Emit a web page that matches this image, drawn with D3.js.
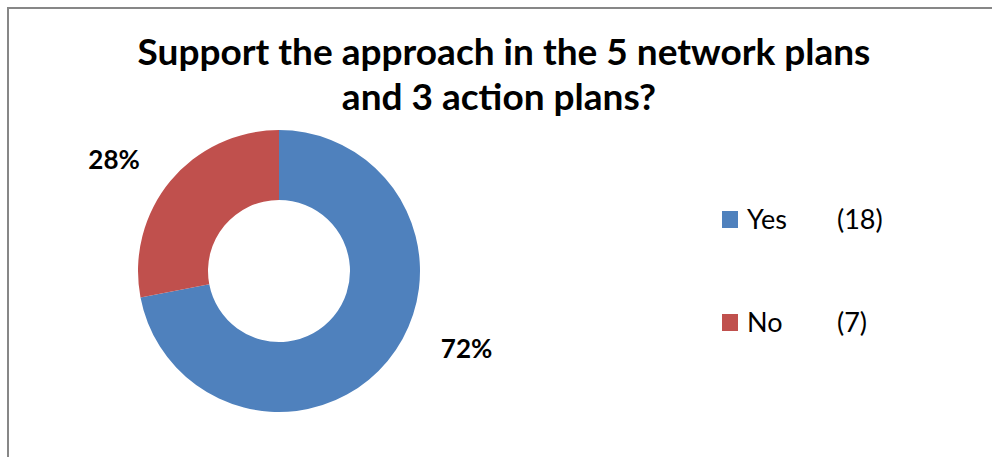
<!DOCTYPE html>
<html>
<head>
<meta charset="utf-8">
<script src="https://cdn.jsdelivr.net/npm/d3@7"></script>
<style>
  html, body { margin: 0; padding: 0; background: #fff; }
  svg { display: block; }
</style>
</head>
<body>
<svg id="chart" width="992" height="457"></svg>
<script>
// Survey responses
const categories = ["Yes", "No"];
const counts = [18, 7];
const percentLabels = ["72%", "28%"];
const titleLines = ["Support the approach in the 5 network plans", "and 3 action plans?"];

const colors = ["#4F81BD", "#C0504D"];
const W = 992, H = 457;
const svg = d3.select("#chart");

// outer frame
svg.append("rect")
  .attr("x", 8).attr("y", 8)
  .attr("width", W + 20).attr("height", H + 20)
  .attr("fill", "#fff")
  .attr("stroke", "#878787").attr("stroke-width", 2);

// title, sized so the first line spans the intended width
const font = "Lato, 'Open Sans', sans-serif";
const title = svg.append("g");
const t1 = title.append("text")
  .attr("x", 504).attr("y", 65)
  .attr("text-anchor", "middle")
  .attr("font-family", font).attr("font-weight", "bold")
  .attr("font-size", 32).attr("fill", "#000")
  .text(titleLines[0]);
const w1 = t1.node().getComputedTextLength();
const titleSize = 32 * 733 / w1;
t1.attr("font-size", titleSize);
title.append("text")
  .attr("x", 499).attr("y", 110)
  .attr("text-anchor", "middle")
  .attr("font-family", font).attr("font-weight", "bold")
  .attr("font-size", titleSize).attr("fill", "#000")
  .text(titleLines[1]);

// donut
const cx = 279, cy = 271, outerR = 141, innerR = 71;
const pie = d3.pie().sort(null).value(d => d)(counts);
const arc = d3.arc().innerRadius(innerR).outerRadius(outerR);
const g = svg.append("g").attr("transform", `translate(${cx},${cy})`);
g.selectAll("path.slice")
  .data(pie)
  .join("path")
  .attr("class", "slice")
  .attr("d", arc)
  .attr("fill", (d, i) => colors[i]);

// percentage labels placed outside the ring
const labelPolar = [
  { angle: 112.5, r: 203 },
  { angle: 304, r: 199 }
];
g.selectAll("text.pct")
  .data(pie)
  .join("text")
  .attr("class", "pct")
  .attr("x", (d, i) => labelPolar[i].r * Math.sin(labelPolar[i].angle * Math.PI / 180))
  .attr("y", (d, i) => -labelPolar[i].r * Math.cos(labelPolar[i].angle * Math.PI / 180))
  .attr("dy", "0.35em")
  .attr("text-anchor", "middle")
  .attr("font-family", font).attr("font-weight", "bold")
  .attr("font-size", 26).attr("fill", "#000")
  .text((d, i) => percentLabels[i]);

// legend
const legend = svg.append("g").attr("transform", "translate(722,211)");
const item = legend.selectAll("g.item")
  .data(categories)
  .join("g")
  .attr("class", "item")
  .attr("transform", (d, i) => `translate(0,${i * 103})`);
item.append("rect")
  .attr("width", 16).attr("height", 17)
  .attr("fill", (d, i) => colors[i]);
item.append("text")
  .attr("x", 25).attr("y", 18)
  .attr("font-family", font)
  .attr("font-size", 27).attr("fill", "#000")
  .text(d => d);
item.append("text")
  .attr("x", 115).attr("y", 18)
  .attr("font-family", font)
  .attr("font-size", 27).attr("fill", "#000")
  .text((d, i) => `(${counts[i]})`);
</script>
</body>
</html>
